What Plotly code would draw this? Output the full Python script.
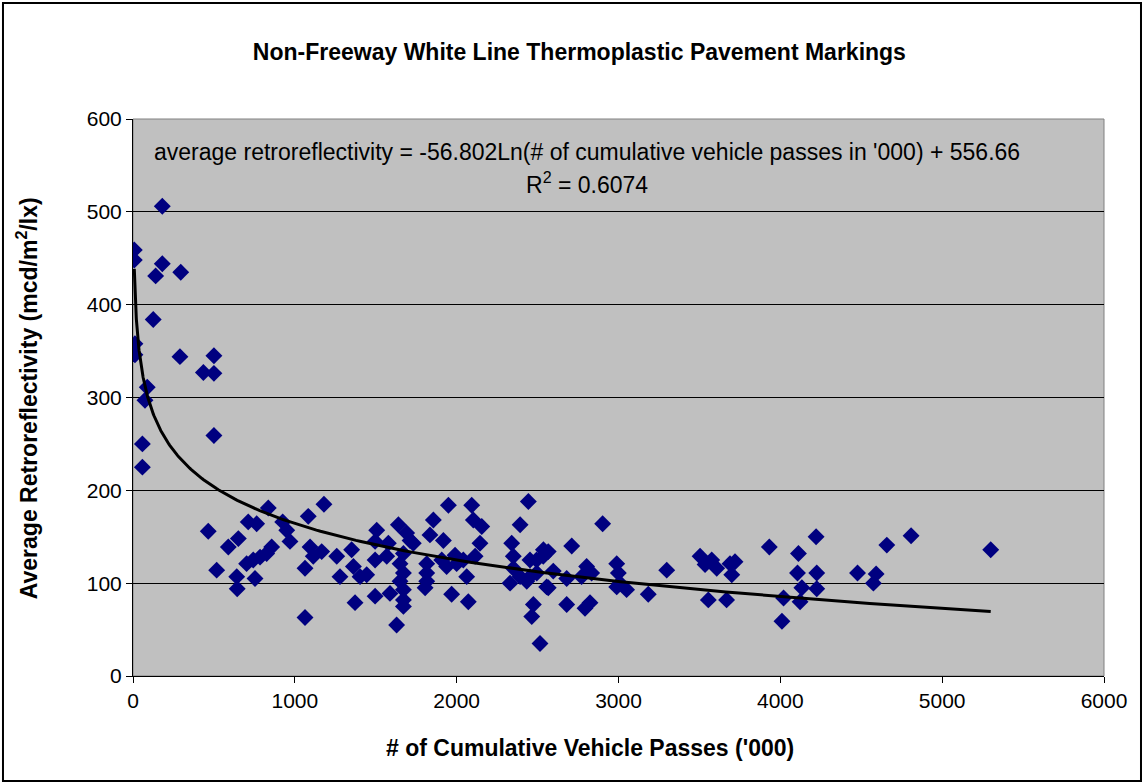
import numpy as np
import plotly.graph_objects as go

# cumulative vehicle passes ('000) and average retroreflectivity (mcd/m2/lx)
passes = [
    8, 8, 181, 181, 140, 295, 125, 12, 12, 290, 500, 435, 500, 88, 74, 500, 58, 58,
    465, 836, 712, 764, 651, 589, 925, 950, 970, 857, 826, 785, 743, 702, 517, 641, 754, 644,
    1083, 1180, 1063, 1094, 1166, 1063, 1114, 1259, 1279, 1351, 1362, 1403, 1444, 1372,
    1506, 1496, 1496, 1496, 1568, 1578, 1588, 1629, 1640, 1691, 1732, 1671, 1650, 1671,
    1650, 1671, 1671, 1671, 1712, 1856, 1835, 1918, 1815, 1815, 1805, 1815, 1949, 1908,
    1990, 1969, 1938, 2000, 2062, 2072, 2093, 2103, 2155, 2144, 2114, 2041,
    2443, 2392, 2340, 2350, 2350, 2330, 2392, 2453, 2433, 2495, 2536, 2556, 2474, 2464,
    2515, 2566, 2535, 2494, 2453,
    2902, 2711, 2597, 2680, 2566, 2680, 2824, 2793, 2803, 2772, 2834, 2989, 2999, 3009,
    3050, 2989, 3184, 3298, 3504, 3535, 3576, 3607, 3689, 3720, 3700, 3555, 3668, 3932,
    4020, 4010,
    4112, 4221, 4106, 4225, 4133, 4225, 4122, 4477, 4592, 4575, 4658, 4808, 5300,
]
retro = [
    459, 448, 506, 444, 431, 435, 384, 358, 346, 344, 345, 327, 326, 311, 297, 259, 250, 225,
    156, 181, 166, 164, 148, 139, 166, 157, 145, 139, 132, 128, 125, 121, 114, 107, 105, 94,
    172, 185, 63, 139, 134, 116, 129, 129, 107, 136, 118, 107, 109, 79,
    157, 145, 125, 86, 129, 143, 89, 55, 163, 154, 143, 132, 121, 111,
    102, 93, 82, 75, 146, 168, 152, 146, 121, 111, 95, 102, 184, 125,
    130, 88, 118, 121, 107, 80, 184, 168, 161, 143, 129, 125,
    188, 163, 143, 129, 116, 100, 107, 125, 102, 111, 136, 96, 77, 64,
    35, 134, 129, 125, 107,
    164, 140, 113, 105, 95, 77, 79, 73, 118, 107, 111, 121, 111, 100,
    93, 96, 88, 114, 129, 120, 125, 116, 121, 123, 109, 82, 82, 139,
    84, 59,
    132, 150, 111, 111, 95, 94, 80, 111, 110, 100, 141, 151, 136,
]

# logarithmic trendline as printed on the chart
slope, intercept = -56.802, 556.66
trend_x = np.geomspace(min(passes), max(passes), 300)
trend_y = slope * np.log(trend_x) + intercept

fig = go.Figure()
fig.add_trace(go.Scatter(
    x=passes, y=retro, mode='markers',
    marker=dict(symbol='diamond', size=13, color='#000080', line=dict(width=0)),
    showlegend=False))
fig.add_trace(go.Scatter(
    x=trend_x, y=trend_y, mode='lines',
    line=dict(color='black', width=3), showlegend=False))

font = 'Arial, Liberation Sans, sans-serif'
axis_common = dict(
    showline=True, linecolor='black', linewidth=1,
    ticks='outside', ticklen=6, tickcolor='black',
    tickfont=dict(family=font, size=21, color='black'),
    zeroline=False)

fig.update_xaxes(range=[0, 6000], dtick=1000, showgrid=False, **axis_common)
fig.update_yaxes(range=[0, 600], dtick=100, showgrid=True, gridcolor='black',
                 gridwidth=1, **axis_common)

fig.update_layout(
    width=1145, height=784,
    margin=dict(l=133, r=41, t=119, b=108, pad=0),
    plot_bgcolor='#C0C0C0', paper_bgcolor='white',
    font=dict(family=font, color='black'),
    title=dict(text='<b>Non-Freeway White Line Thermoplastic Pavement Markings</b>',
               x=0.506, xanchor='center', y=0.934, yanchor='middle',
               font=dict(family=font, size=23, color='black')),
    shapes=[
        dict(type='rect', xref='paper', yref='paper', x0=0, x1=1, y0=0, y1=1,
             line=dict(color='#808080', width=1), layer='below'),
        dict(type='rect', xref='paper', yref='paper',
             x0=-0.1339, x1=1.0381, y0=-0.1885, y1=1.2083,
             line=dict(color='black', width=2)),
    ],
    annotations=[
        dict(text="average retroreflectivity = -56.802Ln(# of cumulative vehicle passes in '000) + 556.66",
             xref='paper', yref='paper', x=0.4676, y=0.941, xanchor='center', yanchor='middle',
             showarrow=False, font=dict(family=font, size=23, color='black')),
        dict(text='R<sup>2</sup> = 0.6074',
             xref='paper', yref='paper', x=0.4676, y=0.885, xanchor='center', yanchor='middle',
             showarrow=False, font=dict(family=font, size=23, color='black')),
        dict(text='<b>Average Retroreflectivity (mcd/m<sup>2</sup>/lx)</b>',
             xref='paper', yref='paper', x=-0.109, y=0.499, textangle=-90,
             xanchor='center', yanchor='middle',
             showarrow=False, font=dict(family=font, size=23, color='black')),
        dict(text="<b># of Cumulative Vehicle Passes ('000)</b>",
             xref='paper', yref='paper', x=0.471, y=-0.129, xanchor='center', yanchor='middle',
             showarrow=False, font=dict(family=font, size=23, color='black')),
    ],
)

fig.write_html('out.html', config={'displayModeBar': False},
               post_script="document.body.style.margin='0';")
